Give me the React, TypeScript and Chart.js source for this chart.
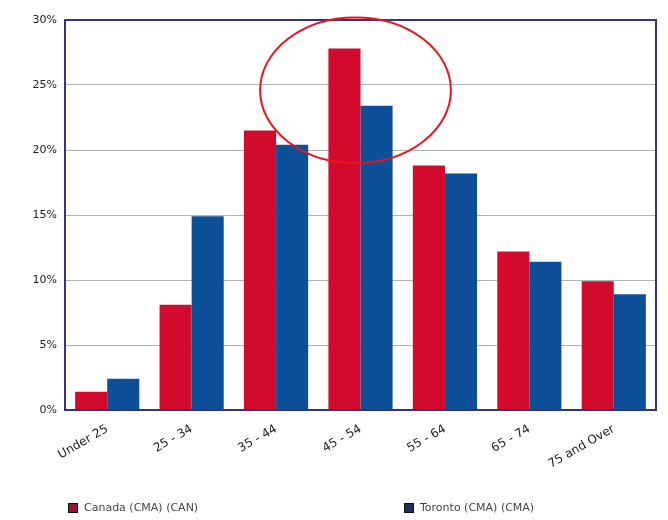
import React, { useEffect, useRef } from "react";
import { Chart, registerables } from "chart.js";

Chart.register(...registerables);

const categories = ["Under 25", "25 - 34", "35 - 44", "45 - 54", "55 - 64", "65 - 74", "75 and Over"];
const seriesNames = ["Canada (CMA) (CAN)", "Toronto (CMA) (CMA)"];
const canadaValues = [1.4, 8.1, 21.5, 27.8, 18.8, 12.2, 9.9];
const torontoValues = [2.4, 14.9, 20.4, 23.4, 18.2, 11.4, 8.9];
const yTicks = [0, 5, 10, 15, 20, 25, 30];

const RED = "#d20a2e";
const BLUE = "#0d4f98";
const FONT = "'DejaVu Sans', Verdana, sans-serif";

// Frame around the plotting area
const framePlugin = {
  id: "frame",
  afterDatasetsDraw(chart: any) {
    const { ctx, chartArea } = chart;
    ctx.save();
    ctx.strokeStyle = "#34347e";
    ctx.lineWidth = 2;
    ctx.strokeRect(chartArea.left, chartArea.top, chartArea.right - chartArea.left, chartArea.bottom - chartArea.top);
    ctx.restore();
  },
};

// Highlight ellipse around the peak age group
const highlightPlugin = {
  id: "highlight",
  afterDraw(chart: any) {
    const { ctx, scales } = chart;
    const cx = scales.x.getPixelForValue(3) - 5;
    const cy = scales.y.getPixelForValue(24.6);
    const rx = scales.x.getPixelForValue(1) - scales.x.getPixelForValue(0);
    const ry = scales.y.getPixelForValue(0) - scales.y.getPixelForValue(5.6);
    ctx.save();
    ctx.strokeStyle = "#e8141e";
    ctx.lineWidth = 2;
    ctx.beginPath();
    ctx.ellipse(cx, cy, rx * 1.13, ry, 0, 0, Math.PI * 2);
    ctx.stroke();
    ctx.restore();
  },
};

// Legend spread along the bottom edge
const bottomLegendPlugin = {
  id: "bottomLegend",
  afterDraw(chart: any) {
    const { ctx } = chart;
    const positions = [68, 404];
    const boxColors = ["#9a1238", "#1c2c5c"];
    ctx.save();
    ctx.font = `11px ${FONT}`;
    ctx.textBaseline = "middle";
    chart.data.datasets.forEach((ds: any, i: number) => {
      const x = positions[i];
      const y = 508;
      ctx.fillStyle = boxColors[i];
      ctx.fillRect(x, y - 5, 10, 10);
      ctx.strokeStyle = "#111";
      ctx.lineWidth = 1;
      ctx.strokeRect(x + 0.5, y - 4.5, 9, 9);
      ctx.fillStyle = "#444";
      ctx.fillText(ds.label, x + 16, y);
    });
    ctx.restore();
  },
};

export default function App() {
  const ref = useRef<HTMLCanvasElement | null>(null);

  useEffect(() => {
    if (!ref.current) return;
    const chart = new Chart(ref.current, {
      type: "bar",
      data: {
        labels: categories,
        datasets: [
          { label: seriesNames[0], data: canadaValues, backgroundColor: RED },
          { label: seriesNames[1], data: torontoValues, backgroundColor: BLUE },
        ],
      },
      options: {
        animation: false,
        responsive: false,
        maintainAspectRatio: false,
        layout: { padding: { left: 8, right: 12, top: 20, bottom: 40 } },
        datasets: {
          bar: { barPercentage: 1, categoryPercentage: 0.76 },
        },
        plugins: {
          legend: { display: false },
          tooltip: { enabled: false },
        },
        scales: {
          x: {
            grid: { display: false },
            border: { display: false },
            ticks: {
              color: "#222",
              font: { family: FONT, size: 12 },
              minRotation: 30,
              maxRotation: 30,
              autoSkip: false,
              padding: 4,
            },
            afterFit(scale: any) {
              scale.height = 70;
            },
          },
          y: {
            min: 0,
            max: 30,
            afterBuildTicks(scale: any) {
              scale.ticks = yTicks.map((v) => ({ value: v }));
            },
            grid: { color: "#b4b4b4", lineWidth: 1, drawTicks: false },
            border: { display: false },
            ticks: {
              color: "#222",
              font: { family: FONT, size: 11 },
              padding: 8,
              callback: (v: any) => `${v}%`,
            },
            afterFit(scale: any) {
              scale.width = 57;
            },
          },
        },
      },
      plugins: [framePlugin, highlightPlugin, bottomLegendPlugin],
    });
    return () => chart.destroy();
  }, []);

  return (
    <div style={{ position: "absolute", left: 0, top: 0, width: 668, height: 520, background: "#fff" }}>
      <canvas ref={ref} width={668} height={520} style={{ display: "block" }} />
    </div>
  );
}
